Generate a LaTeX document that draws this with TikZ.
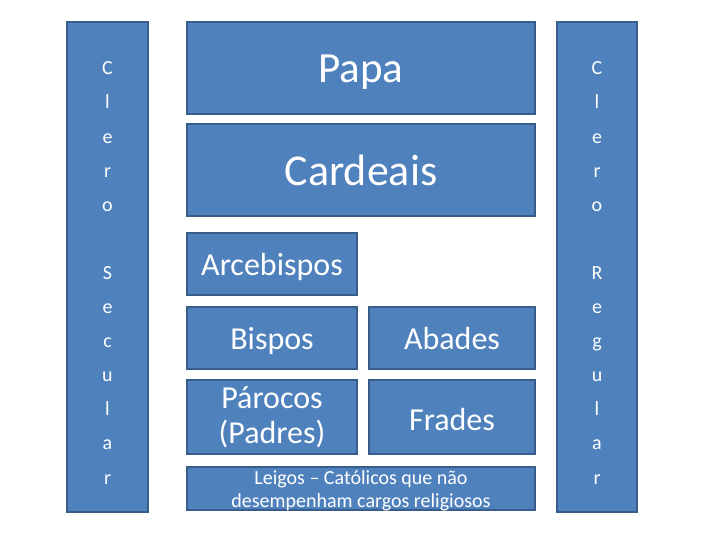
\documentclass[tikz,border=0pt]{standalone}
\usepackage{fontspec}
\setmainfont{Carlito}
\definecolor{boxfill}{HTML}{4F81BD}
\definecolor{boxline}{HTML}{385D8A}
\begin{document}
\begin{tikzpicture}[x=1pt,y=-1pt,
  box/.style={draw=boxline, fill=boxfill, line width=1.3pt, inner sep=0pt, text=white, align=center},
  label/.style={text=white, align=center, inner sep=0pt},
  mid/.style={font=\fontsize{32}{35}\selectfont, text height=23.6pt, text depth=0pt}]
\useasboundingbox (0,0) rectangle (728,546);
\node[box, minimum width=81, minimum height=490] (secular) at (107.5,267) {};
\node[box, minimum width=80, minimum height=490] (regular) at (597,267) {};
\node[label, font=\fontsize{20}{34.1}\selectfont] (sectext) at (107.5,273) {C\\l\\e\\r\\o\\\mbox{}\\S\\e\\c\\u\\l\\a\\r};
\node[label, font=\fontsize{20}{34.1}\selectfont] (regtext) at (597,273) {C\\l\\e\\r\\o\\\mbox{}\\R\\e\\g\\u\\l\\a\\r};
\node[box, minimum width=348, minimum height=92, font=\fontsize{43}{48}\selectfont, text height=28pt, text depth=0pt] (papa) at (361,68) {Papa};
\node[box, minimum width=348, minimum height=92, font=\fontsize{44}{48}\selectfont] (cardeais) at (361,170) {Cardeais};
\node[box, mid, minimum width=170, minimum height=62] (arce) at (272,264) {Arcebispos};
\node[box, mid, minimum width=170, minimum height=62] (bispos) at (272,338) {Bispos};
\node[box, mid, minimum width=166, minimum height=62] (abades) at (452,338) {Abades};
\node[box, minimum width=170, minimum height=74, font=\fontsize{32}{35}\selectfont] (parocos) at (272,417) {Párocos\\(Padres)};
\node[box, mid, text height=26.6pt, minimum width=166, minimum height=74] (frades) at (452,417) {Frades};
\node[box, minimum width=348, minimum height=43] (leigos) at (361,488.5) {};
\node[label, font=\fontsize{20}{22.5}\selectfont] (leigostext) at (361,491) {Leigos – Católicos que não\\desempenham cargos religiosos};
\end{tikzpicture}
\end{document}
